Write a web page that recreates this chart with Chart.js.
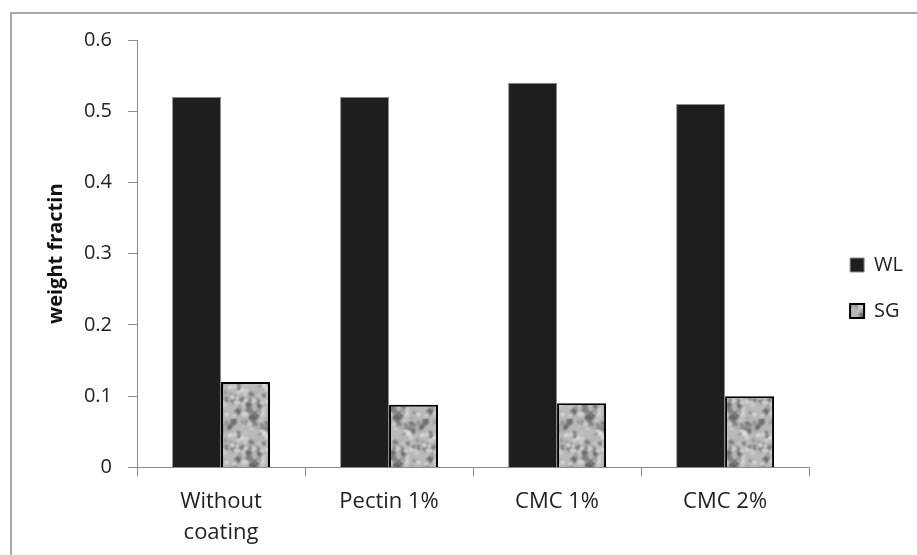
<!DOCTYPE html>
<html>
<head>
<meta charset="utf-8">
<script src="https://cdn.jsdelivr.net/npm/chart.js@4"></script>
<style>
  html, body { margin: 0; padding: 0; background: #fff; overflow: hidden; }
  #wrap { position: relative; width: 917px; height: 555px; }
</style>
</head>
<body>
<div id="wrap"><canvas id="chartPeso" width="917" height="555"></canvas></div>
<script>
const categories = [["Without", "coating"], "Pectin 1%", "CMC 1%", "CMC 2%"];
const wlValues = [0.52, 0.52, 0.54, 0.51];
const sgValues = [0.12, 0.088, 0.09, 0.10];
const yTicks = [0, 0.1, 0.2, 0.3, 0.4, 0.5, 0.6];

const fontFamily = "'Open Sans', sans-serif";

// textura granulada cinza para a série SG
function makeGrainPattern() {
  const size = 48;
  const c = document.createElement("canvas");
  c.width = size;
  c.height = size;
  const g = c.getContext("2d");
  g.fillStyle = "#b8b8b8";
  g.fillRect(0, 0, size, size);
  let seed = 11;
  const rnd = () => {
    seed = (seed * 16807) % 2147483647;
    return (seed - 1) / 2147483646;
  };
  g.filter = "blur(0.8px)";
  for (let i = 0; i < 110; i++) {
    const x = rnd() * size;
    const y = rnd() * size;
    const r = 0.8 + rnd() * 1.8;
    const shade = rnd() < 0.5 ? 95 + rnd() * 45 : 195 + rnd() * 45;
    g.fillStyle = `rgb(${shade},${shade},${shade})`;
    for (let dx = -size; dx <= size; dx += size) {
      for (let dy = -size; dy <= size; dy += size) {
        g.beginPath();
        g.ellipse(x + dx, y + dy, r * 1.4, r, rnd() * Math.PI, 0, Math.PI * 2);
        g.fill();
      }
    }
  }
  return document.getElementById("chartPeso").getContext("2d").createPattern(c, "repeat");
}

const grain = makeGrainPattern();

// moldura cinza em volta do gráfico
const framePlugin = {
  id: "frame",
  beforeDraw(chart) {
    const ctx = chart.ctx;
    ctx.save();
    ctx.strokeStyle = "#a8a8a8";
    ctx.lineWidth = 2;
    ctx.strokeRect(11, 13, 1000, 1000);
    ctx.restore();
  },
};

// empurra a legenda um pouco para a direita e para cima
const legendShift = {
  id: "legendShift",
  afterLayout(chart) {
    const lg = chart.legend;
    lg.left += 15;
    lg.right += 15;
    lg.top -= 9;
    lg.bottom -= 9;
  },
};

new Chart(document.getElementById("chartPeso"), {
  type: "bar",
  data: {
    labels: categories,
    datasets: [
      {
        label: "WL",
        data: wlValues,
        backgroundColor: "#1e1e1e",
        borderColor: "#8a8a8a",
        borderWidth: 1,
      },
      {
        label: "SG",
        data: sgValues,
        backgroundColor: grain,
        borderColor: "#000",
        borderWidth: 2,
      },
    ],
  },
  options: {
    responsive: false,
    animation: false,
    layout: {
      padding: { left: 44, right: 19, top: 40, bottom: 1 },
    },
    plugins: {
      tooltip: { enabled: false },
      legend: {
        position: "right",
        labels: {
          boxWidth: 14,
          boxHeight: 14,
          padding: 26,
          color: "#222",
          font: { family: fontFamily, size: 20 },
        },
      },
    },
    datasets: {
      bar: {
        categoryPercentage: 0.583,
        barPercentage: 1.0,
      },
    },
    scales: {
      x: {
        afterFit(scale) {
          scale.height -= 4;
        },
        grid: {
          drawOnChartArea: false,
          tickLength: 9,
          color: "#8a8a8a",
        },
        border: { color: "#8a8a8a" },
        ticks: {
          color: "#222",
          padding: 10,
          maxRotation: 0,
          font: { family: fontFamily, size: 22, lineHeight: 1.4 },
        },
      },
      y: {
        min: 0,
        max: 0.6,
        afterBuildTicks(scale) {
          scale.ticks = yTicks.map((v) => ({ value: v }));
        },
        afterFit(scale) {
          scale.width = 93;
        },
        grid: {
          drawOnChartArea: false,
          tickLength: 9,
          color: "#8a8a8a",
        },
        border: { color: "#8a8a8a" },
        ticks: {
          color: "#222",
          padding: 16,
          font: { family: fontFamily, size: 20 },
        },
        title: {
          display: true,
          text: "weight fractin",
          color: "#111",
          padding: { top: 0, bottom: 4 },
          font: { family: fontFamily, size: 20, weight: "bold" },
        },
      },
    },
  },
  plugins: [framePlugin, legendShift],
});
</script>
</body>
</html>
